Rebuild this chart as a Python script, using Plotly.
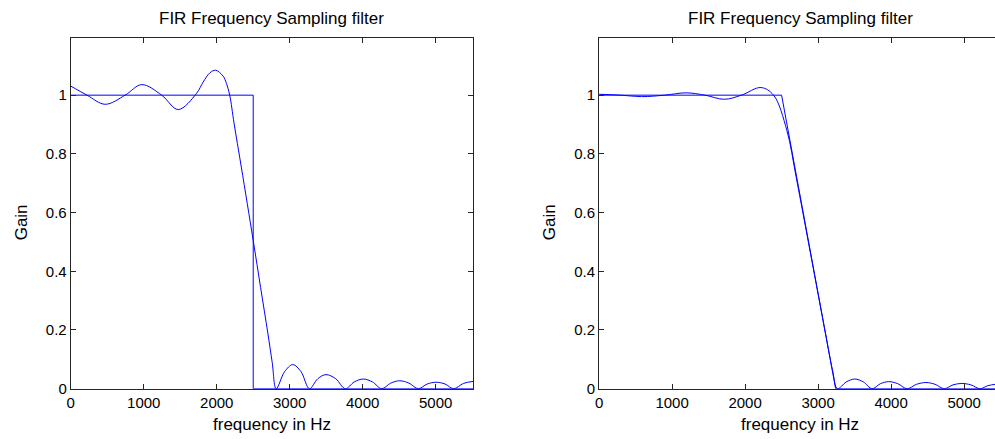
import plotly.graph_objects as go

# ---- data ----
ideal1_f = [0, 2500, 2500, 5512.5]
ideal1_g = [1, 1, 0, 0]

resp1_f = [0, 223, 473, 745, 973, 1246, 1473, 1723, 1815, 1906, 1985, 2087, 2133, 2178,
           2237, 2337, 2500, 2601, 2700, 2760, 2815,
           2930, 3042, 3155, 3270, 3385, 3497, 3630, 3761, 3884, 4007, 4134, 4261,
           4384, 4506, 4634, 4761, 4884, 5007, 5128, 5248, 5380, 5512.5]
resp1_g = [1.031, 1.0, 0.969, 1.0, 1.036, 1.0, 0.951, 1.006, 1.045, 1.076, 1.085, 1.065, 1.04, 1.0,
           0.905, 0.755, 0.505, 0.345, 0.19, 0.09, 0.0,
           0.058, 0.082, 0.058, 0.0, 0.034, 0.048, 0.034, 0.0, 0.023, 0.033, 0.023, 0.0,
           0.019, 0.027, 0.019, 0.0, 0.016, 0.022, 0.016, 0.0, 0.018, 0.025]

ideal2_f = [0, 2500, 3240, 5512.5]
ideal2_g = [1, 1, 0, 0]

resp2_f = [0, 300, 580, 900, 1194, 1450, 1716, 1950, 2217, 2390, 2572, 2700, 2900, 3100, 3200, 3265,
           3385, 3503, 3620, 3740, 3853, 3967, 4092, 4218, 4348, 4477, 4602, 4727,
           4848, 4968, 5093, 5218, 5320, 5430, 5512.5]
resp2_g = [1.003, 1.0, 0.995, 1.0, 1.008, 1.0, 0.986, 1.0, 1.026, 1.0, 0.88, 0.72, 0.455, 0.19, 0.06, 0.0,
           0.023, 0.033, 0.023, 0.0, 0.017, 0.024, 0.017, 0.0, 0.015, 0.021, 0.015, 0.0,
           0.013, 0.018, 0.013, 0.0, 0.01, 0.015, 0.017]

xticks = [0, 1000, 2000, 3000, 4000, 5000]
yticks = [0, 0.2, 0.4, 0.6, 0.8, 1]
ytick_text = ["0", "0.2", "0.4", "0.6", "0.8", "1"]
title_text = "FIR Frequency Sampling filter"
xlabel_text = "frequency in Hz"
ylabel_text = "Gain"

W, H = 995, 439
S = 0.98  # vertical compensation
BLUE = "#0000ff"
AX = "#262626"
FONT = "Liberation Sans, Arial, sans-serif"


def fy(px):
    return (H - px / S) / H


fig = go.Figure()
line = dict(color=BLUE, width=1)
sp = dict(color=BLUE, width=1, shape="spline", smoothing=1.0)
fig.add_trace(go.Scatter(x=ideal1_f, y=ideal1_g, mode="lines", line=line, xaxis="x", yaxis="y"))
fig.add_trace(go.Scatter(x=resp1_f, y=resp1_g, mode="lines", line=sp, xaxis="x", yaxis="y"))
fig.add_trace(go.Scatter(x=ideal2_f, y=ideal2_g, mode="lines", line=line, xaxis="x2", yaxis="y2"))
fig.add_trace(go.Scatter(x=resp2_f, y=resp2_g, mode="lines", line=sp, xaxis="x2", yaxis="y2"))

yd = [fy(388), fy(38)]
x1d = [67 / W, 471 / W]
x2d = [597.5 / W, 1.0]
ymax = (388 - 38) / 293.0

tf = dict(family=FONT, size=15, color="#000")
common_x = dict(tickvals=xticks, ticks="inside", ticklen=5, tickcolor=AX, showline=True, linecolor=AX,
                linewidth=1, showgrid=False, zeroline=False, tickfont=tf, mirror="allticks")
common_y = dict(tickvals=yticks, ticktext=ytick_text, ticks="inside", ticklen=5, tickcolor=AX, showline=True,
                linecolor=AX, linewidth=1, showgrid=False, zeroline=False, tickfont=tf, range=[0, ymax])

fig.update_layout(
    width=W, height=H, margin=dict(l=0, r=0, t=0, b=0), showlegend=False,
    paper_bgcolor="white", plot_bgcolor="white",
    xaxis=dict(domain=x1d, range=[0, 5512.5], anchor="y", **common_x),
    yaxis=dict(domain=yd, anchor="x", mirror="allticks", **common_y),
    xaxis2=dict(domain=x2d, range=[0, (995 - 597.5) / 0.0733], anchor="y2", **common_x),
    yaxis2=dict(domain=yd, anchor="x2", mirror=False, **common_y),
)

lf = dict(family=FONT, size=17, color="#000")
ann = []
for cx, ylx in [((67 + 471) / 2, 17), ((597.5 + 1001) / 2, 548)]:
    ann.append(dict(text=title_text, x=cx / W, y=fy(18), xref="paper", yref="paper",
                    showarrow=False, xanchor="center", yanchor="middle", font=lf))
    ann.append(dict(text=xlabel_text, x=cx / W, y=fy(424), xref="paper", yref="paper",
                    showarrow=False, xanchor="center", yanchor="middle", font=lf))
    ann.append(dict(text=ylabel_text, x=ylx / W, y=fy(222), xref="paper", yref="paper",
                    showarrow=False, xanchor="center", yanchor="middle", textangle=-90, font=lf))
fig.update_layout(annotations=ann)

fig.write_html("out.html")
